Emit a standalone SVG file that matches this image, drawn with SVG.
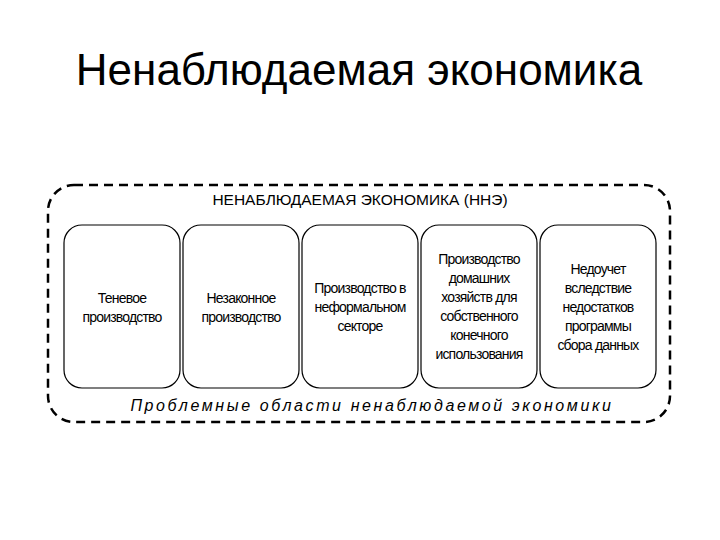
<svg xmlns="http://www.w3.org/2000/svg" width="720" height="540" viewBox="0 0 720 540">
<style>
text{font-family:"Liberation Sans",Arial,sans-serif;fill:#000;text-anchor:middle}
.b{fill:#fff;stroke:#000;stroke-width:1.2}
.t{font-size:14px;letter-spacing:-0.8px}
</style>
<rect width="720" height="540" fill="#fff"/>
<text x="359" y="85" style="font-size:44px">Ненаблюдаемая экономика</text>
<g id="outer">
<rect x="48" y="185" width="622" height="237" rx="26" fill="none" stroke="#000" stroke-width="2.5" stroke-dasharray="9,6"/>
<text x="360" y="205" style="font-size:15.5px">НЕНАБЛЮДАЕМАЯ ЭКОНОМИКА (ННЭ)</text>
<text x="372" y="411" style="font-size:16px;font-style:italic;letter-spacing:2.6px">Проблемные  области  ненаблюдаемой  экономики</text>
</g>
<g id="n1"><rect class="b" x="64" y="225" width="116" height="163" rx="18"/>
<text class="t" x="122" y="303">Теневое</text><text class="t" x="122" y="322">производство</text></g>
<g id="n2"><rect class="b" x="183" y="225" width="116" height="163" rx="18"/>
<text class="t" x="241" y="303">Незаконное</text><text class="t" x="241" y="322">производство</text></g>
<g id="n3"><rect class="b" x="302" y="225" width="116" height="163" rx="18"/>
<text class="t" x="360" y="293">Производство в</text><text class="t" x="360" y="312">неформальном</text><text class="t" x="360" y="331">секторе</text></g>
<g id="n4"><rect class="b" x="421" y="225" width="116" height="163" rx="18"/>
<text class="t" x="479" y="264">Производство</text><text class="t" x="479" y="283">домашних</text><text class="t" x="479" y="302">хозяйств для</text><text class="t" x="479" y="321">собственного</text><text class="t" x="479" y="340">конечного</text><text class="t" x="479" y="359">использования</text></g>
<g id="n5"><rect class="b" x="540" y="225" width="116" height="163" rx="18"/>
<text class="t" x="598" y="274">Недоучет</text><text class="t" x="598" y="293">вследствие</text><text class="t" x="598" y="312">недостатков</text><text class="t" x="598" y="331">программы</text><text class="t" x="598" y="350">сбора данных</text></g>
<g id="connectors"/>
</svg>
